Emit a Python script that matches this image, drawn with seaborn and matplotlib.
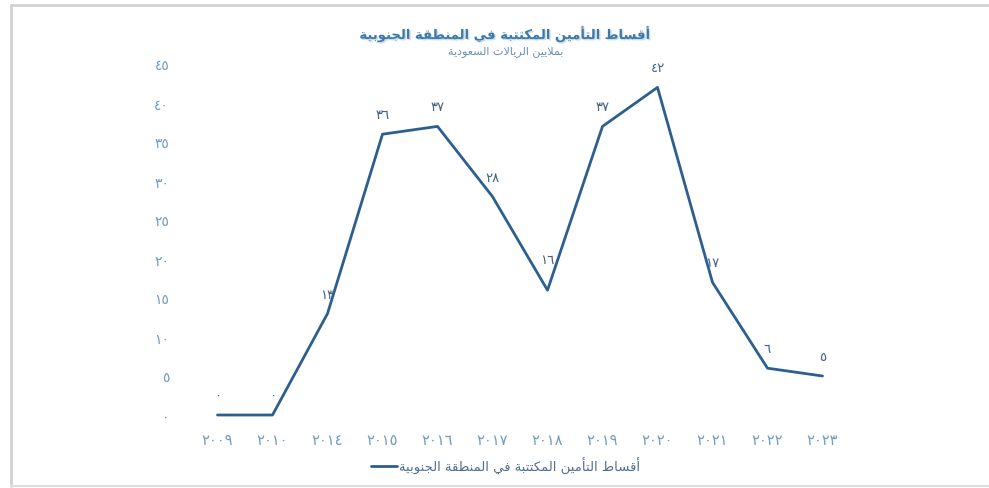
import matplotlib
matplotlib.use("Agg")
import matplotlib.pyplot as plt
import matplotlib.patheffects as pe
from matplotlib.lines import Line2D
import seaborn as sns
import pandas as pd

# ---------------- data ----------------
years = ["2009", "2010", "2014", "2015", "2016", "2017", "2018", "2019", "2020", "2021", "2022", "2023"]
values = [0, 0, 13, 36, 37, 28, 16, 37, 42, 17, 6, 5]
y_ticks = [0, 5, 10, 15, 20, 25, 30, 35, 40, 45]
title_text = "أقساط التأمين المكتتبة في المنطقة الجنوبية"
subtitle_text = "بملايين الريالات السعودية"
series_name = "أقساط التأمين المكتتبة في المنطقة الجنوبية"

# ---------------- Arabic helpers ----------------
DIG = str.maketrans("0123456789", "٠١٢٣٤٥٦٧٨٩")

def ar_num(s):
    return str(s).translate(DIG)

DUAL = {'ب': 0xFE8F, 'ت': 0xFE95, 'ث': 0xFE99, 'ج': 0xFE9D, 'ح': 0xFEA1, 'خ': 0xFEA5,
        'س': 0xFEB1, 'ش': 0xFEB5, 'ص': 0xFEB9, 'ض': 0xFEBD, 'ط': 0xFEC1, 'ظ': 0xFEC5,
        'ع': 0xFEC9, 'غ': 0xFECD, 'ف': 0xFED1, 'ق': 0xFED5, 'ك': 0xFED9, 'ل': 0xFEDD,
        'م': 0xFEE1, 'ن': 0xFEE5, 'ه': 0xFEE9, 'ي': 0xFEF1, 'ئ': 0xFE89}
RIGHT = {'آ': 0xFE81, 'أ': 0xFE83, 'ؤ': 0xFE85, 'إ': 0xFE87, 'ا': 0xFE8D, 'ة': 0xFE93,
         'د': 0xFEA9, 'ذ': 0xFEAB, 'ر': 0xFEAD, 'ز': 0xFEAF, 'و': 0xFEED, 'ى': 0xFEEF}
LAMALEF = {'ا': 0xFEFB, 'أ': 0xFEF7, 'إ': 0xFEF9, 'آ': 0xFEF5}


def shape(text):
    toks = []
    i = 0
    while i < len(text):
        c = text[i]
        if c == 'ل' and i + 1 < len(text) and text[i + 1] in LAMALEF:
            toks.append(('LA', text[i + 1]))
            i += 2
        else:
            toks.append((c, None))
            i += 1

    def jt(tok):
        c = tok[0]
        if c == 'LA':
            return 'R'
        if c in DUAL:
            return 'D'
        if c in RIGHT:
            return 'R'
        return 'U'

    out = []
    for k, tok in enumerate(toks):
        t = jt(tok)
        pj = k > 0 and jt(toks[k - 1]) == 'D'
        nj = k + 1 < len(toks) and jt(toks[k + 1]) in ('D', 'R')
        c, extra = tok
        if c == 'LA':
            out.append(chr(LAMALEF[extra] + (1 if pj else 0)))
        elif t == 'D':
            off = 3 if (pj and nj) else 1 if pj else 2 if nj else 0
            out.append(chr(DUAL[c] + off))
        elif t == 'R':
            out.append(chr(RIGHT[c] + (1 if pj else 0)))
        else:
            out.append(c)
    return ''.join(reversed(out))


# ---------------- plot ----------------
sns.set_theme(style="white")
plt.rcParams['font.family'] = ['DejaVu Sans']

LINE_C = "#2d5f8e"
TICK_C = "#6f9cc4"
LABEL_C = "#46617e"
TITLE_C = "#3b79a8"

df = pd.DataFrame({"year": [ar_num(y) for y in years], "value": values})

fig = plt.figure(figsize=(9.89, 4.89), dpi=100)
ax = fig.add_axes([190 / 989, 1 - 416 / 489, (850 - 190) / 989, (416 - 65) / 489])

sns.lineplot(data=df, x="year", y="value", sort=False, color=LINE_C, linewidth=2.0, ax=ax,
             clip_on=False, legend=False)

ax.set_xlim(-0.5, len(years) - 0.5)
ax.set_ylim(0, 45)
ax.set_yticks(y_ticks)
ax.set_yticklabels([ar_num(v) for v in y_ticks])
ax.set_xticks(range(len(years)))
ax.set_xticklabels([ar_num(y) for y in years])
ax.tick_params(axis='both', length=0, colors=TICK_C)
ax.tick_params(axis='y', pad=15, labelsize=10)
ax.tick_params(axis='x', pad=12, labelsize=10.5)
for s in ax.spines.values():
    s.set_visible(False)
ax.set_xlabel("")
ax.set_ylabel("")
ax.set_facecolor("none")

# data labels
vmin_idx = [i for i in range(1, len(values) - 1) if values[i] < values[i - 1] and values[i] < values[i + 1]]
for i, v in enumerate(values):
    off = 22 if i in vmin_idx else 14
    ax.annotate(ar_num(v), (i, v), xytext=(0, off), textcoords="offset points",
                ha="center", va="center", fontsize=9.5, color=LABEL_C, annotation_clip=False)

# titles
fig.text(0.511, 1 - 35 / 489, shape(title_text), ha="center", va="center", fontsize=9.5,
         fontweight="bold", color=TITLE_C,
         path_effects=[pe.withSimplePatchShadow(offset=(1, -1), shadow_rgbFace="#a9c3da", alpha=0.6)])
fig.text(0.511, 1 - 52 / 489, shape(subtitle_text), ha="center", va="center", fontsize=8,
         color="#6c8fb0")

# legend
handle = Line2D([0], [0], color=LINE_C, linewidth=2.0)
fig.legend([handle], [shape(series_name)], loc="center", bbox_to_anchor=(0.511, 1 - 466 / 489),
           frameon=False, fontsize=9.5, labelcolor="#4f6f8f", handlelength=2.0, handletextpad=0.1)

# frame lines
fig.add_artist(Line2D([11 / 989, 11 / 989], [1 - 6 / 489, 1 - 487 / 489], color="#d2d2d2", linewidth=2,
                      transform=fig.transFigure))
fig.add_artist(Line2D([11 / 989, 1], [1 - 6 / 489, 1 - 6 / 489], color="#d2d2d2", linewidth=2,
                      transform=fig.transFigure))
fig.add_artist(Line2D([11 / 989, 1], [1 - 487 / 489, 1 - 487 / 489], color="#dcdcdc", linewidth=1.5,
                      transform=fig.transFigure))

fig.savefig("out.png", dpi=100, facecolor="white")
